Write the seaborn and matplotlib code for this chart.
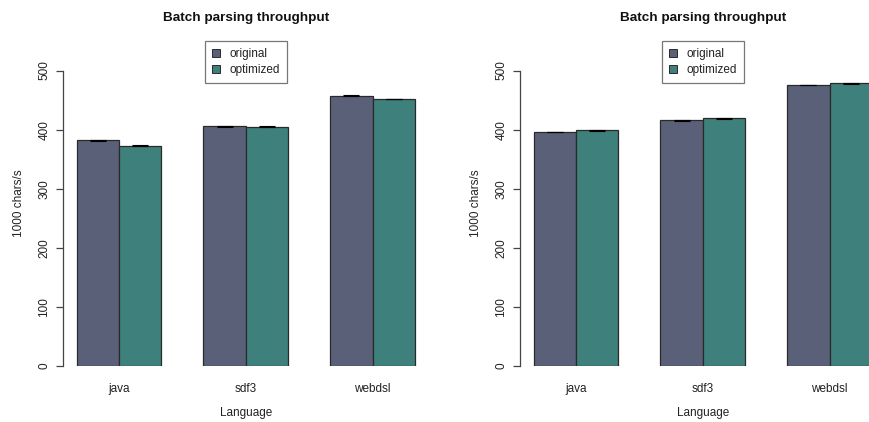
import numpy as np
import pandas as pd
import matplotlib
matplotlib.use("Agg")
import matplotlib.pyplot as plt
from matplotlib.patches import Patch
import seaborn as sns

# Throughput measurements (1000 chars/s) for two benchmark runs
languages = ["java", "sdf3", "webdsl"]
versions = ["original", "optimized"]

left_original = [382.4, 405.5, 457.4]
left_optimized = [372.8, 405.0, 451.8]
left_original_err = [0.8, 0.5, 1.2]
left_optimized_err = [0.8, 0.5, 0.3]

right_original = [396.0, 415.6, 475.5]
right_optimized = [398.7, 419.0, 478.8]
right_original_err = [0.8, 0.3, 0.8]
right_optimized_err = [1.2, 1.0, 0.8]

title = "Batch parsing throughput"
ylabel = "1000 chars/s"
xlabel = "Language"
yticks = [0, 100, 200, 300, 400, 500]

colors = {"original": "#5B6079", "optimized": "#3E807B"}

sns.set_style("white")
plt.rcParams["font.family"] = ["Liberation Sans", "DejaVu Sans"]

fig = plt.figure(figsize=(8.7, 4.22), dpi=100)
W, H = 870.0, 422.0


def panel(left_px, orig, opt, orig_err, opt_err):
    ax = fig.add_axes([left_px / W, 56 / H, 365.5 / W, 325 / H])
    df = pd.DataFrame({
        "Language": languages * 2,
        "version": ["original"] * 3 + ["optimized"] * 3,
        "value": list(orig) + list(opt),
    })
    sns.barplot(data=df, x="Language", y="value", hue="version",
                hue_order=versions, order=languages, palette=colors,
                width=2 / 3, gap=0, errorbar=None, saturation=1,
                edgecolor="#2a2a2a", linewidth=0.9, legend=False, ax=ax)
    # error whiskers at each bar top
    for cont, vals, errs in zip(ax.containers, [orig, opt], [orig_err, opt_err]):
        xs = [p.get_x() + p.get_width() / 2 for p in cont.patches]
        ax.errorbar(xs, vals, yerr=errs, fmt="none", ecolor="black",
                    elinewidth=0.8, capsize=5.5, capthick=0.8, zorder=5)
    ax.set_xlim(-1 / 3 - 0.107, 2 + 1 / 3 + 0.107)
    ax.set_ylim(0, 550)
    ax.set_yticks(yticks)
    ax.set_yticklabels([str(t) for t in yticks], rotation=90, va="center")
    for s in ["top", "right", "bottom"]:
        ax.spines[s].set_visible(False)
    ax.spines["left"].set_bounds(0, 500)
    ax.spines["left"].set_color("#444444")
    ax.spines["left"].set_linewidth(0.9)
    ax.tick_params(axis="y", length=5, width=0.9, color="#444444",
                   pad=4, labelsize=8.5, labelcolor="#222222", left=True)
    ax.tick_params(axis="x", length=0, pad=12, labelsize=8.5,
                   labelcolor="#222222")
    ax.set_xlabel(xlabel, fontsize=8.5, color="#222222")
    ax.xaxis.set_label_coords(0.5, -0.125)
    ax.set_ylabel(ylabel, fontsize=8.5, color="#222222")
    ax.yaxis.set_label_coords(-0.105, 0.5)
    ax.set_title(title, fontsize=9.7, fontweight="bold", pad=14.5,
                 color="#111111")
    handles = [Patch(facecolor=colors[v], edgecolor="#2a2a2a",
                     linewidth=0.7, label=v) for v in versions]
    leg = ax.legend(handles=handles, loc="upper center",
                    bbox_to_anchor=(0.5, 1.0), borderaxespad=0,
                    fontsize=8.5, frameon=True, fancybox=False,
                    handlelength=0.7, handleheight=0.7, handletextpad=0.8,
                    labelspacing=0.35, borderpad=0.6)
    leg.get_frame().set_edgecolor("#555555")
    leg.get_frame().set_linewidth(0.9)
    for t in leg.get_texts():
        t.set_color("#222222")
    return ax


panel(63, left_original, left_optimized, left_original_err, left_optimized_err)
panel(520, right_original, right_optimized, right_original_err, right_optimized_err)

fig.savefig("out.png", dpi=100, facecolor="white")
